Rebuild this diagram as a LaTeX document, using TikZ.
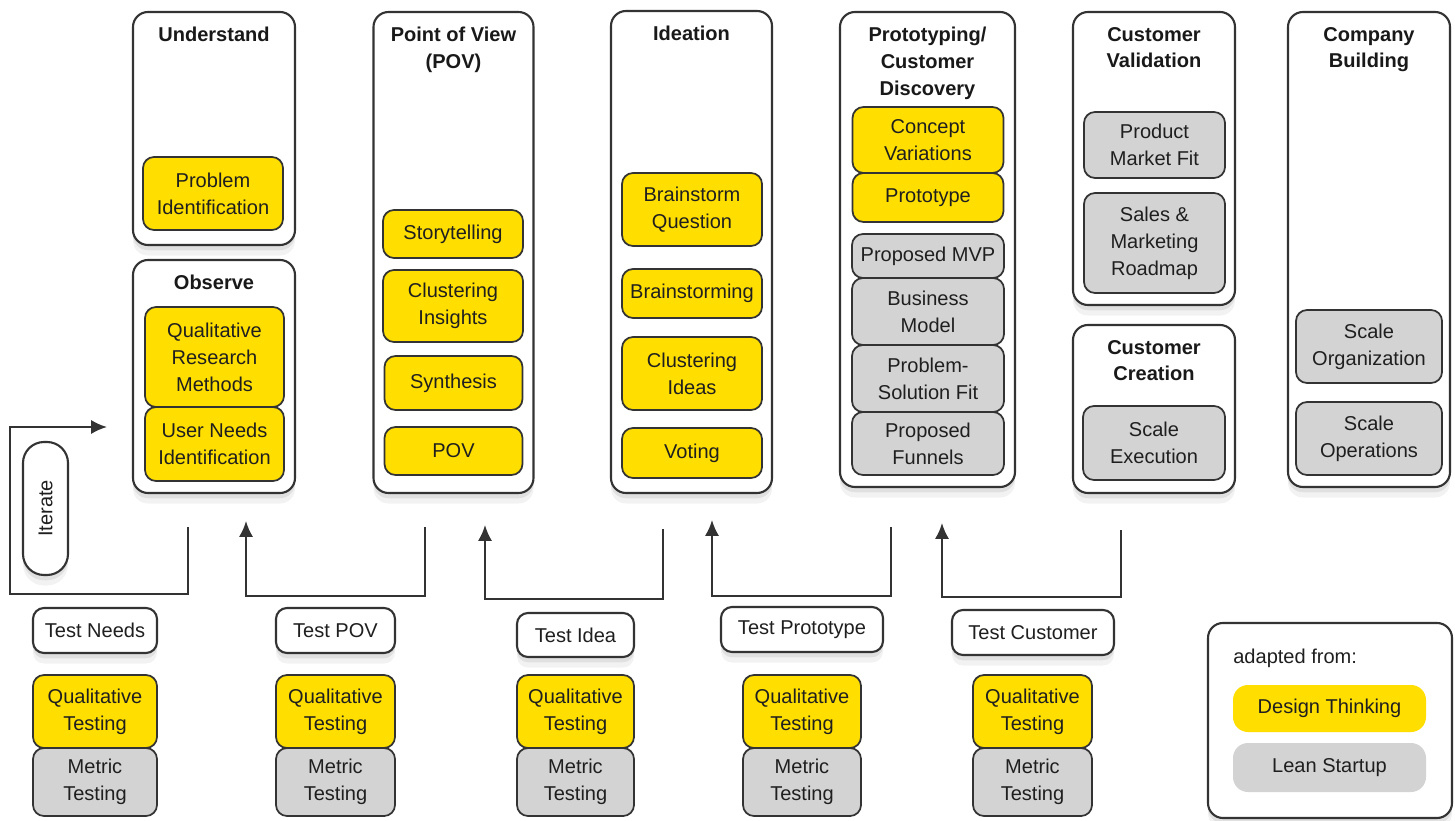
\documentclass[tikz,border=0pt]{standalone}
\usepackage{fontspec}
\setmainfont{Liberation Sans}
\usetikzlibrary{positioning,shadows,arrows.meta}
\definecolor{dtyellow}{HTML}{FFDE00}
\definecolor{lsgray}{HTML}{D3D3D3}
\definecolor{bordergray}{HTML}{333333}

\tikzset{
  sz/.style 2 args={minimum width=#1*0.02cm, minimum height=#2*0.02cm},
  shdw/.style={drop shadow={opacity=0.10, shadow xshift=0pt, shadow yshift=-6pt},
               drop shadow={opacity=0.16, shadow xshift=0pt, shadow yshift=-3pt}},
  bxbase/.style={rounded corners=0.22cm, draw=bordergray, line width=1pt, align=center, inner sep=1pt, text=black!88},
  dt/.style={bxbase, fill=dtyellow},
  ls/.style={bxbase, fill=lsgray},
  col/.style={bxbase, fill=white, rounded corners=0.3cm, line width=1.2pt, shdw},
  tst/.style={bxbase, fill=white, line width=1.2pt, shdw},
  ttl/.style={font=\fontsize{11.4}{15.3}\selectfont\bfseries, align=center, inner sep=0pt, text=black!90},
  arr/.style={draw=bordergray, line width=1.2pt, -{Latex[length=9pt,width=8pt]}}
}

\begin{document}
\begin{tikzpicture}[x=0.02cm, y=-0.02cm, font=\fontsize{11.4}{15.3}\selectfont]
    \useasboundingbox (0,0) rectangle (1455,821);

    % 理解 / 观察
    \node[col, sz={162}{233}] (und) at (214,128.5) {};
    \node[ttl, below=9pt of und.north] (undt) {Understand};
    \node[dt, sz={140}{73}] (pid) at (213,193.5) {Problem\\Identification};
    \node[col, sz={162}{233}] (obs) at (214,376.5) {};
    \node[ttl, below=9pt of obs.north] (obst) {Observe};
    \node[dt, sz={139}{100}] (qrm) at (214.5,357) {Qualitative\\Research\\Methods};
    \node[dt, sz={139}{74}] (une) at (214.5,444) {User Needs\\Identification};

    % 观点
    \node[col, sz={160}{481}] (pov) at (453.5,252.5) {};
    \node[ttl, below=9pt of pov.north] (povt) {Point of View\\(POV)};
    \node[dt, sz={140}{48}] (sto) at (453,234) {Storytelling};
    \node[dt, sz={140}{72}] (cli) at (453,306) {Clustering\\Insights};
    \node[dt, sz={138}{54}] (syn) at (453.5,383) {Synthesis};
    \node[dt, sz={138}{48}] (pv) at (453.5,451) {POV};

    % 构思
    \node[col, sz={161}{482}] (ide) at (691.5,252) {};
    \node[ttl, below=9pt of ide.north] (idet) {Ideation};
    \node[dt, sz={140}{73}] (bq) at (692,209.5) {Brainstorm\\Question};
    \node[dt, sz={140}{49}] (bst) at (692,293.5) {Brainstorming};
    \node[dt, sz={140}{73}] (cid) at (692,373.5) {Clustering\\Ideas};
    \node[dt, sz={140}{50}] (vot) at (692,453) {Voting};

    % 原型
    \node[col, sz={175}{475}] (pro) at (927.5,249.5) {};
    \node[ttl, below=9pt of pro.north] (prot) {Prototyping/\\Customer\\Discovery};
    \node[dt, sz={151}{66}] (cv) at (928,140) {Concept\\Variations};
    \node[dt, sz={151}{49}] (pty) at (928,197.5) {Prototype};
    \node[ls, sz={152}{44}] (mvp) at (928,256) {Proposed MVP};
    \node[ls, sz={152}{67}] (bm) at (928,311.5) {Business\\Model};
    \node[ls, sz={152}{67}] (psf) at (928,378.5) {Problem-\\Solution Fit};
    \node[ls, sz={152}{63}] (pf) at (928,443.5) {Proposed\\Funnels};

    % 客户验证 / 客户创造
    \node[col, sz={162}{293}] (val) at (1154,158.5) {};
    \node[ttl, below=9pt of val.north] (valt) {Customer\\Validation};
    \node[ls, sz={141}{66}] (pmf) at (1154.5,145) {Product\\Market Fit};
    \node[ls, sz={141}{100}] (smr) at (1154.5,243) {Sales \&\\Marketing\\Roadmap};
    \node[col, sz={162}{168}] (cre) at (1154,409) {};
    \node[ttl, below=9pt of cre.north] (cret) {Customer\\Creation};
    \node[ls, sz={142}{74}] (sex) at (1154,443) {Scale\\Execution};

    % 公司建设
    \node[col, sz={162}{475}] (cmp) at (1369,249.5) {};
    \node[ttl, below=9pt of cmp.north] (cmpt) {Company\\Building};
    \node[ls, sz={146}{73}] (sor) at (1369,346.5) {Scale\\Organization};
    \node[ls, sz={146}{73}] (sop) at (1369,438.5) {Scale\\Operations};

    % 测试
    \node[tst, sz={124}{45}] (tn) at (95,630.5) {Test Needs};
    \node[dt, sz={124}{73}] (q1) at (95,711.5) {Qualitative\\Testing};
    \node[ls, sz={124}{68}] (m1) at (95,782) {Metric\\Testing};
    \node[tst, sz={119}{45}] (tp) at (335.5,630.5) {Test POV};
    \node[dt, sz={119}{73}] (q2) at (335.5,711.5) {Qualitative\\Testing};
    \node[ls, sz={119}{68}] (m2) at (335.5,782) {Metric\\Testing};
    \node[tst, sz={117}{44}] (ti) at (575.5,635) {Test Idea};
    \node[dt, sz={117}{73}] (q3) at (575.5,711.5) {Qualitative\\Testing};
    \node[ls, sz={117}{68}] (m3) at (575.5,782) {Metric\\Testing};
    \node[tst, sz={162}{45}] (tpr) at (802,629.5) {Test Prototype};
    \node[dt, sz={118}{73}] (q4) at (802,711.5) {Qualitative\\Testing};
    \node[ls, sz={118}{68}] (m4) at (802,782) {Metric\\Testing};
    \node[tst, sz={162}{45}] (tc) at (1033,632.5) {Test Customer};
    \node[dt, sz={119}{73}] (q5) at (1032.5,711.5) {Qualitative\\Testing};
    \node[ls, sz={119}{68}] (m5) at (1032.5,782) {Metric\\Testing};

    % 迭代
    \node[tst, rotate=90, sz={133}{45}, rounded corners=0.42cm] (itr) at (45.5,508.5) {Iterate};
    \coordinate (s0) at (188,527);
    \coordinate (k0) at (10,427);
    \coordinate (e0) at (107,427);
    \draw[arr] (s0) -- ++(0,67) -| (k0) -- (e0);

    % 箭头
    \coordinate (s1) at (425,527);
    \coordinate (e1) at (246,521);
    \draw[arr] (s1) -- ++(0,69) -| (e1);
    \coordinate (s2) at (663,529);
    \coordinate (e2) at (485,525);
    \draw[arr] (s2) -- ++(0,70) -| (e2);
    \coordinate (s3) at (891,527);
    \coordinate (e3) at (712,520);
    \draw[arr] (s3) -- ++(0,69) -| (e3);
    \coordinate (s4) at (1121,530);
    \coordinate (e4) at (942,523);
    \draw[arr] (s4) -- ++(0,67) -| (e4);

    % 图例
    \node[col, sz={244}{195}] (leg) at (1330,720.5) {};
    \node[anchor=west, inner sep=0pt, text=black!88] (adp) at (1233,658) {adapted from:};
    \node[fill=dtyellow, rounded corners=0.3cm, sz={193}{47}, text=black!88] (kdt) at (1329.5,708.5) {Design Thinking};
    \node[fill=lsgray, rounded corners=0.3cm, sz={193}{49}, text=black!88] (kls) at (1329.5,767.5) {Lean Startup};
\end{tikzpicture}
\end{document}
